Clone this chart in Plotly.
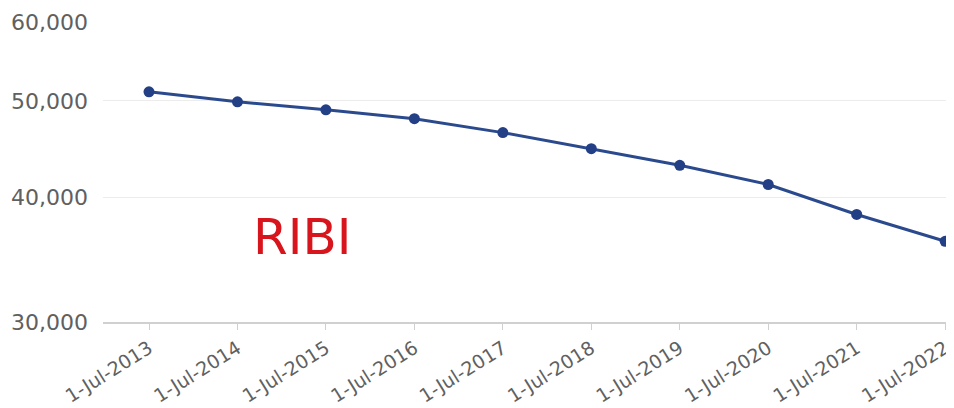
import plotly.graph_objects as go

categories = ["1-Jul-2013", "1-Jul-2014", "1-Jul-2015", "1-Jul-2016", "1-Jul-2017",
              "1-Jul-2018", "1-Jul-2019", "1-Jul-2020", "1-Jul-2021", "1-Jul-2022"]
values = [51060, 49900, 48990, 47990, 46470, 44780, 43090, 41220, 38460, 36150]
y_ticks = [30000, 40000, 50000, 60000]
y_tick_labels = ["30,000", "40,000", "50,000", "60,000"]

FONT = "DejaVu Sans, Arial"

fig = go.Figure()
fig.add_trace(go.Scatter(
    x=categories, y=values, mode="lines+markers",
    line=dict(color="#2b4a8e", width=3),
    marker=dict(color="#233f85", size=11),
    cliponaxis=False,
))

fig.add_annotation(
    text="RIBI", x=0.234, y=0.285, xref="paper", yref="paper",
    xanchor="center", yanchor="middle",
    showarrow=False, font=dict(family=FONT, size=50, color="#d8141c"),
)

fig.update_layout(
    width=954, height=408,
    margin=dict(l=95, r=8, t=14, b=94),
    paper_bgcolor="white", plot_bgcolor="white",
    showlegend=False,
    font=dict(family=FONT, color="#606060"),
)
fig.update_xaxes(
    type="category", range=[-0.52, 9.1], automargin=False,
    showgrid=False, showline=True, linecolor="#d0d0d0", linewidth=2,
    ticks="outside", ticklen=6, tickcolor="#d0d0d0", tickwidth=1,
    tickangle=-32, tickfont=dict(family=FONT, size=19, color="#606060"),
)
fig.update_yaxes(
    type="log", range=[4.4771, 4.7782], automargin=False,
    tickvals=y_ticks, ticktext=y_tick_labels,
    showgrid=True, gridcolor="#ececec", gridwidth=1, zeroline=False,
    tickfont=dict(family=FONT, size=22, color="#606060"), ticklabelstandoff=14,
)

fig.write_html("out.html")
